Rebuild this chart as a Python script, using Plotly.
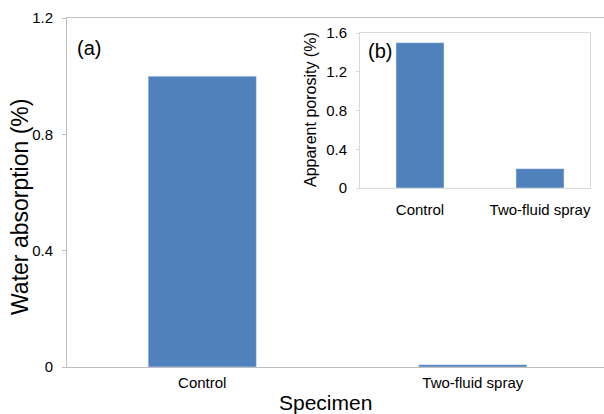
import plotly.graph_objects as go

categories = ["Control", "Two-fluid spray"]
water_absorption = [1.0, 0.008]
apparent_porosity = [1.5, 0.2]
main_ticks = [0, 0.4, 0.8, 1.2]
main_tick_text = ["0", "0.4", "0.8", "1.2"]
inset_ticks = [0, 0.4, 0.8, 1.2, 1.6]
inset_tick_text = ["0", "0.4", "0.8", "1.2", "1.6"]

W, H = 604, 414
L, R, T, B = 67, 0, 18, 47
PW, PH = W - L - R, H - T - B

def fx(px):
    return (px - L) / PW

def fy(py):
    return (H - B - py) / PH

BAR = "#4F81BD"
AX = "#BFBFBF"
FONT = "Arial, Liberation Sans, sans-serif"

fig = go.Figure()
fig.add_trace(go.Bar(x=categories, y=water_absorption, marker_color=BAR,
                     width=0.4, xaxis="x", yaxis="y", showlegend=False))
fig.add_trace(go.Bar(x=categories, y=apparent_porosity, marker_color=BAR,
                     width=0.4, xaxis="x2", yaxis="y2", showlegend=False))

fig.update_layout(
    width=W, height=H,
    margin=dict(l=L, r=R, t=T, b=B),
    paper_bgcolor="white", plot_bgcolor="white",
    font=dict(family=FONT, color="black", size=15),
    xaxis=dict(domain=[0, 1], range=[-0.5, 1.485], showline=True, linecolor=AX,
               mirror=True, showgrid=False, ticks="", tickfont=dict(size=15),
               ticklabelstandoff=2),
    yaxis=dict(domain=[0, 1], range=[0, 1.2], tickvals=main_ticks, ticktext=main_tick_text,
               showline=True, linecolor=AX, showgrid=False, zeroline=False,
               ticks="outside", ticklen=4, tickcolor=AX, tickfont=dict(size=15),
               ticklabelstandoff=6),
    xaxis2=dict(domain=[fx(360), fx(590)], range=[-0.5, 1.4167], anchor="y2",
                showline=True, linecolor="#D9D9D9", mirror=True, showgrid=False,
                ticks="", tickfont=dict(size=15), ticklabelstandoff=8),
    yaxis2=dict(domain=[fy(188), fy(33)], range=[0, 1.6], anchor="x2",
                tickvals=inset_ticks, ticktext=inset_tick_text,
                showline=True, linecolor="#D9D9D9", mirror=True, showgrid=False,
                zeroline=False, ticks="outside", ticklen=3, tickcolor="#D9D9D9",
                tickfont=dict(size=15), ticklabelstandoff=6),
    annotations=[
        dict(text="Water absorption (%)", x=fx(20), y=fy(207), xref="paper", yref="paper",
             showarrow=False, textangle=-90, font=dict(size=23), xanchor="center", yanchor="middle"),
        dict(text="Specimen", x=fx(325), y=fy(402), xref="paper", yref="paper",
             showarrow=False, font=dict(size=21), xanchor="center", yanchor="middle"),
        dict(text="Apparent porosity (%)", x=fx(310), y=fy(110), xref="paper", yref="paper",
             showarrow=False, textangle=-90, font=dict(size=16), xanchor="center", yanchor="middle"),
        dict(text="(a)", x=fx(89), y=fy(48), xref="paper", yref="paper",
             showarrow=False, font=dict(size=20), xanchor="center", yanchor="middle"),
        dict(text="(b)", x=fx(380), y=fy(51), xref="paper", yref="paper",
             showarrow=False, font=dict(size=20), xanchor="center", yanchor="middle"),
    ],
)

fig.write_html("out.html", config={"displayModeBar": False},
               post_script="document.body.style.margin='0';")
